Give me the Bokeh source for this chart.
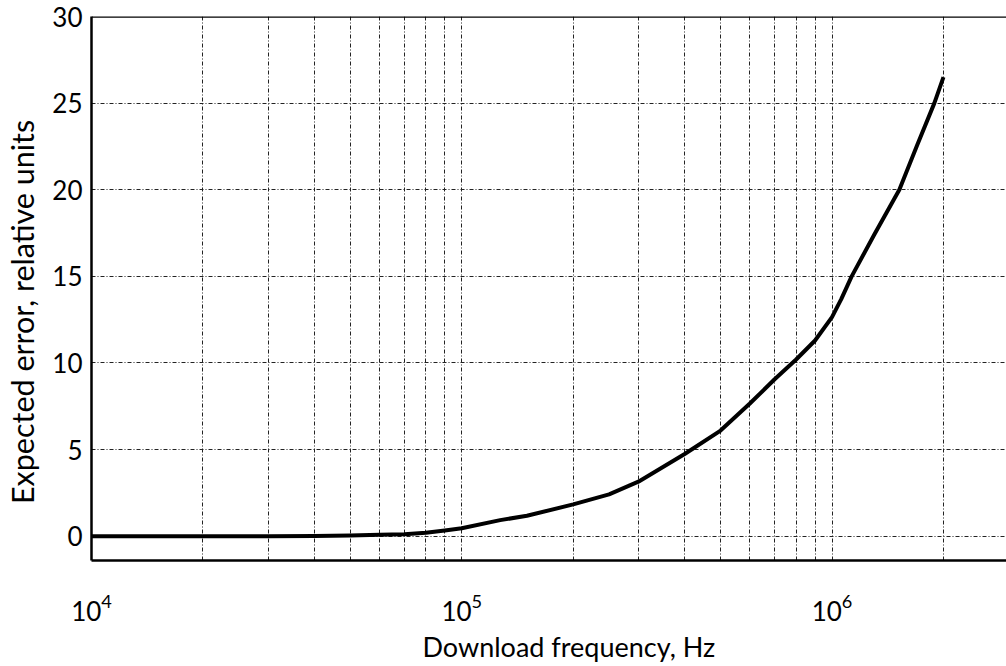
from bokeh.plotting import figure
from bokeh.models import Range1d, FixedTicker, Span, Title
from bokeh.embed import file_html
from bokeh.resources import INLINE

# Expected error versus download frequency
freq_hz = [1e4, 2e4, 3e4, 4e4, 5e4, 6e4, 7e4, 8e4, 9e4, 1e5, 1.27e5, 1.5e5,
           2e5, 2.5e5, 3e5, 4e5, 5e5, 6e5, 7e5, 8e5, 9e5, 1e6, 1.06e6,
           1.13e6, 1.3e6, 1.52e6, 1.7e6, 1.89e6, 2e6]
error = [0.0, 0.0, 0.0, 0.01, 0.05, 0.08, 0.12, 0.2, 0.33, 0.46, 0.93, 1.18,
         1.84, 2.42, 3.15, 4.75, 6.1, 7.66, 9.06, 10.2, 11.3, 12.65, 13.7,
         15.0, 17.4, 20.0, 22.6, 25.0, 26.5]

# Axis ticks
x_decades = [1e4, 1e5, 1e6]
x_minor = [m * d for d in (1e4, 1e5, 1e6) for m in range(2, 10)]
y_ticks = [0, 5, 10, 15, 20, 25, 30]

X_LO, X_HI = 1e4, 2.96e6
Y_LO, Y_HI = -1.4, 30

FONT = "Lato"
GRID_DASH = "4 2 1 2"

p = figure(width=1006, height=666, x_axis_type="log",
           x_range=Range1d(X_LO, X_HI), y_range=Range1d(Y_LO, Y_HI),
           output_backend="svg", toolbar_location=None,
           min_border_left=91, min_border_right=0,
           min_border_top=16, min_border_bottom=106)
p.outline_line_color = None
p.background_fill_color = "white"
p.border_fill_color = "white"

# grid
for g in (p.xgrid[0], p.ygrid[0]):
    g.grid_line_color = "#222222"
    g.grid_line_width = 1
    g.grid_line_dash = GRID_DASH
p.xgrid[0].minor_grid_line_color = "#222222"
p.xgrid[0].minor_grid_line_width = 1
p.xgrid[0].minor_grid_line_dash = GRID_DASH

p.line(freq_hz, error, line_color="black", line_width=4,
       line_join="round")

# top border
p.add_layout(Span(location=Y_HI, dimension="width", line_color="black",
                  line_width=2.5))

xa = p.xaxis[0]
xa.ticker = FixedTicker(ticks=x_decades, minor_ticks=x_minor)
ya = p.yaxis[0]
ya.ticker = FixedTicker(ticks=y_ticks)

for ax in (xa, ya):
    ax.axis_line_color = "black"
    ax.axis_line_width = 2.5
    ax.major_tick_line_color = None
    ax.minor_tick_line_color = None
    ax.major_tick_out = 0
    ax.major_tick_in = 0
    ax.minor_tick_out = 0
    ax.minor_tick_in = 0
    ax.major_label_text_font = FONT
    ax.major_label_text_font_size = "26px"
    ax.major_label_text_color = "black"

xa.major_label_standoff = 33
ya.major_label_standoff = 9

# y title sits a little below the frame centre (padded with no-break spaces)
ya.axis_label = "Expected error, relative units" + "\u00a0" * 6
ya.axis_label_text_font = FONT
ya.axis_label_text_font_size = "30.5px"
ya.axis_label_text_font_style = "normal"
ya.axis_label_text_color = "black"
ya.axis_label_standoff = 9

p.add_layout(Title(text="Download frequency, Hz", align="left", offset=331,
                   standoff=8, text_font=FONT, text_font_size="27px",
                   text_font_style="normal", text_color="black"), "below")

open("out.html", "w").write(file_html(p, INLINE))
